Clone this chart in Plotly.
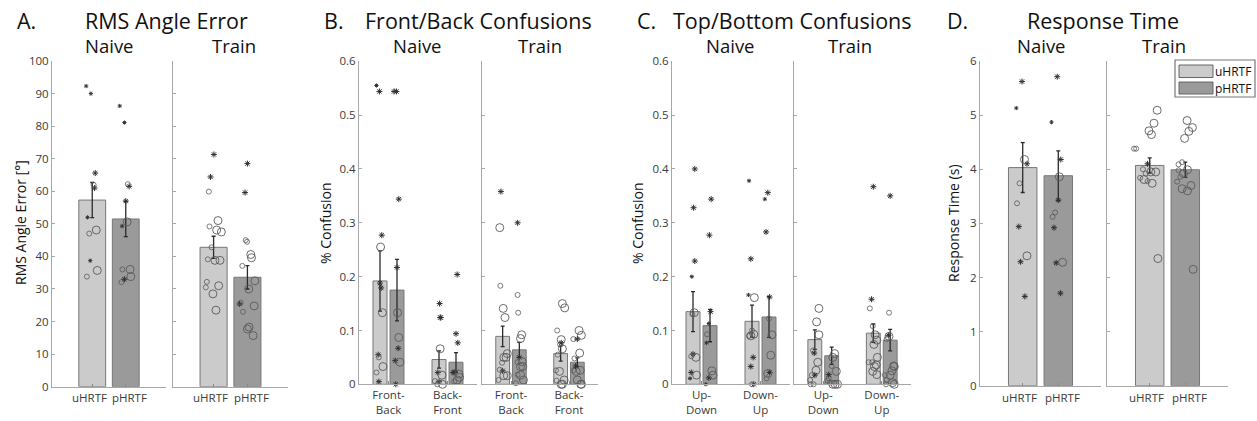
import plotly.graph_objects as go

W, H = 1257, 421

# ---------------- data ----------------
HRTF = ["uHRTF", "pHRTF"]
FB_TICKS = ["Front-<br>Back", "Back-<br>Front"]
UD_TICKS = ["Up-<br>Down", "Down-<br>Up"]

A_YTICKS = [0, 10, 20, 30, 40, 50, 60, 70, 80, 90, 100]
BC_YTICKS = [0, 0.1, 0.2, 0.3, 0.4, 0.5, 0.6]
D_YTICKS = [0, 1, 2, 3, 4, 5, 6]

# A. RMS angle error, [uHRTF, pHRTF]
A_naive_mean = [57.3, 51.5]
A_naive_sem = [5.4, 5.4]
A_train_mean = [42.8, 33.6]
A_train_sem = [3.4, 3.6]
# subjects: (value, jitter, marker kind)
A_naive_u = [(92.3, -0.18, "a"), (90.0, -0.04, "a"), (65.6, 0.09, "A"), (62.0, 0.04, "o"), (61.0, 0.07, "A"),
             (52.0, -0.14, "a"), (48.1, 0.12, "O"), (47.0, -0.09, "o"), (38.7, -0.06, "a"), (35.7, 0.15, "O"),
             (33.8, -0.16, "o")]
A_naive_p = [(86.2, -0.18, "a"), (81.1, -0.04, "a"), (62.2, 0.06, "o"), (61.5, 0.10, "A"), (57.0, 0.0, "A"),
             (50.6, 0.04, "O"), (49.3, -0.11, "a"), (36.0, -0.10, "o"), (36.0, 0.13, "O"), (33.8, 0.15, "O"),
             (33.0, -0.04, "A"), (32.1, -0.13, "o")]
A_train_u = [(71.3, 0.01, "A"), (64.4, -0.09, "A"), (59.9, -0.14, "o"), (51.0, 0.13, "O"), (49.2, -0.12, "o"),
             (48.1, 0.09, "O"), (47.5, 0.23, "O"), (42.8, -0.06, "o"), (39.1, -0.17, "o"), (38.8, 0.04, "O"),
             (38.8, 0.19, "O"), (32.2, -0.20, "o"), (31.0, 0.15, "O"), (30.5, -0.23, "o"), (28.5, -0.02, "O"),
             (23.5, 0.07, "O")]
A_train_p = [(68.5, 0.0, "A"), (59.6, -0.07, "A"), (45.0, -0.05, "o"), (44.5, -0.01, "o"), (40.6, 0.10, "O"),
             (39.6, 0.12, "O"), (37.1, -0.15, "o"), (32.5, 0.22, "O"), (30.0, 0.04, "O"), (25.8, -0.20, "o"),
             (25.4, -0.23, "A"), (24.8, 0.20, "O"), (23.0, -0.13, "o"), (18.3, 0.05, "O"), (17.7, 0.0, "O"),
             (15.7, 0.17, "O")]

# B. Front/Back confusions, groups [Front-Back, Back-Front]
B_naive_u_mean = [0.192, 0.046]
B_naive_u_sem = [0.056, 0.016]
B_naive_p_mean = [0.175, 0.041]
B_naive_p_sem = [0.057, 0.018]
B_train_u_mean = [0.089, 0.057]
B_train_u_sem = [0.019, 0.014]
B_train_p_mean = [0.064, 0.041]
B_train_p_sem = [0.014, 0.008]
B_naive_u_fb = [(0.555, -0.06, "a"), (0.544, -0.01, "A"), (0.277, 0.03, "A"), (0.255, 0.01, "O"), (0.188, 0.0, "A"),
                (0.179, 0.02, "A"), (0.133, 0.04, "O"), (0.055, -0.03, "A"), (0.050, -0.02, "o"),
                (0.022, -0.06, "o"), (0.033, 0.05, "O"), (0.005, -0.02, "A")]
B_naive_p_fb = [(0.544, -0.05, "A"), (0.544, -0.01, "A"), (0.344, 0.03, "A"), (0.217, 0.0, "A"), (0.133, 0.01, "O"),
                (0.087, 0.03, "O"), (0.067, 0.02, "A"), (0.044, -0.03, "A"), (0.041, 0.05, "O"), (0.0, -0.02, "A")]
B_naive_u_bf = [(0.150, 0.01, "A"), (0.124, 0.02, "A"), (0.124, 0.03, "A"), (0.066, 0.02, "O"), (0.022, -0.02, "A"),
                (0.006, -0.07, "o"), (0.0, -0.03, "o"), (0.017, 0.05, "O"), (0.0, 0.06, "O"), (0.005, 0.0, "A")]
B_naive_p_bf = [(0.204, 0.02, "A"), (0.094, 0.0, "A"), (0.077, 0.03, "A"), (0.022, -0.05, "A"), (0.022, -0.02, "A"),
                (0.019, 0.05, "O"), (0.008, 0.02, "O"), (0.005, -0.03, "o"), (0.013, 0.06, "O")]
B_train_u_fb = [(0.358, -0.03, "A"), (0.291, -0.05, "O"), (0.183, -0.04, "o"), (0.141, 0.01, "O"), (0.124, 0.04, "O"),
                (0.050, 0.02, "O"), (0.040, -0.01, "o"), (0.050, 0.06, "O"), (0.057, 0.08, "O"), (0.025, 0.0, "A"),
                (0.008, -0.07, "o"), (0.016, 0.02, "O"), (0.016, 0.08, "O"), (0.027, -0.05, "o")]
B_train_p_fb = [(0.300, -0.03, "A"), (0.166, -0.03, "o"), (0.133, -0.02, "o"), (0.092, 0.04, "O"), (0.085, 0.02, "O"),
                (0.050, 0.0, "A"), (0.041, -0.03, "o"), (0.042, 0.05, "O"), (0.033, 0.02, "O"), (0.033, 0.06, "O"),
                (0.018, -0.03, "o"), (0.017, 0.02, "O"), (0.008, 0.07, "O"), (0.002, -0.06, "o")]
B_train_u_bf = [(0.150, 0.03, "O"), (0.142, 0.07, "O"), (0.100, -0.06, "o"), (0.083, 0.01, "O"), (0.074, -0.01, "o"),
                (0.077, 0.01, "A"), (0.066, 0.03, "O"), (0.055, -0.05, "o"), (0.026, -0.08, "o"), (0.024, -0.02, "O"),
                (0.007, -0.07, "o"), (0.008, 0.06, "O"), (0.0, 0.03, "O"), (0.0, 0.01, "O")]
B_train_p_bf = [(0.100, 0.03, "O"), (0.091, 0.07, "O"), (0.084, -0.07, "o"), (0.084, 0.0, "A"), (0.058, 0.04, "O"),
                (0.048, -0.05, "o"), (0.034, -0.03, "A"), (0.026, -0.07, "o"), (0.024, -0.02, "O"), (0.026, 0.05, "O"),
                (0.008, 0.0, "O"), (0.0, 0.06, "O"), (0.0, 0.07, "O")]

# C. Top/Bottom confusions, groups [Up-Down, Down-Up]
C_naive_u_mean = [0.135, 0.117]
C_naive_u_sem = [0.037, 0.030]
C_naive_p_mean = [0.109, 0.125]
C_naive_p_sem = [0.030, 0.038]
C_train_u_mean = [0.083, 0.095]
C_train_u_sem = [0.018, 0.017]
C_train_p_mean = [0.053, 0.082]
C_train_p_sem = [0.016, 0.020]
C_naive_u_ud = [(0.400, 0.03, "A"), (0.328, 0.01, "A"), (0.229, 0.03, "A"), (0.200, -0.02, "a"), (0.133, 0.02, "O"),
                (0.130, -0.01, "o"), (0.056, 0.0, "A"), (0.052, -0.03, "o"), (0.050, 0.05, "O"), (0.022, -0.03, "A"),
                (0.011, -0.05, "a"), (0.017, 0.06, "O")]
C_naive_p_ud = [(0.344, 0.02, "A"), (0.277, -0.01, "A"), (0.135, 0.01, "A"), (0.113, -0.02, "a"), (0.093, -0.05, "o"),
                (0.077, -0.06, "a"), (0.025, 0.03, "O"), (0.017, 0.05, "O"), (0.012, -0.02, "A"), (0.0, -0.07, "a")]
C_naive_u_du = [(0.378, -0.05, "a"), (0.233, -0.02, "A"), (0.166, -0.06, "a"), (0.161, 0.04, "O"), (0.100, 0.0, "o"),
                (0.090, -0.05, "o"), (0.093, 0.03, "O"), (0.090, -0.02, "O"), (0.050, 0.02, "A"), (0.033, -0.02, "A"),
                (0.0, 0.0, "o"), (0.0, 0.03, "A")]
C_naive_p_du = [(0.356, -0.02, "A"), (0.344, -0.07, "a"), (0.283, -0.05, "A"), (0.162, 0.01, "A"), (0.122, 0.0, "o"),
                (0.092, 0.05, "O"), (0.054, 0.03, "O"), (0.022, 0.01, "A"), (0.020, -0.02, "O"), (0.011, -0.04, "o")]
C_train_u_ud = [(0.141, 0.07, "O"), (0.116, 0.03, "O"), (0.092, 0.07, "O"), (0.063, -0.03, "o"), (0.058, -0.01, "A"),
                (0.041, 0.05, "O"), (0.026, 0.02, "O"), (0.017, 0.0, "A"), (0.017, -0.05, "o"), (0.008, -0.08, "o"),
                (0.0, -0.07, "o"), (0.0, -0.02, "o")]
C_train_p_ud = [(0.057, 0.05, "O"), (0.050, 0.02, "O"), (0.034, 0.0, "o"), (0.024, 0.08, "O"), (0.018, -0.05, "A"),
                (0.011, -0.05, "o"), (0.007, -0.07, "o"), (0.0, 0.02, "O"), (0.0, 0.06, "O"), (0.0, 0.10, "O"),
                (0.003, -0.03, "o")]
C_train_u_du = [(0.367, 0.0, "A"), (0.158, -0.03, "A"), (0.141, -0.06, "o"), (0.108, -0.01, "o"), (0.092, 0.03, "O"),
                (0.082, 0.06, "O"), (0.074, 0.01, "O"), (0.050, 0.07, "O"), (0.041, -0.08, "o"), (0.041, -0.02, "o"),
                (0.033, 0.02, "O"), (0.036, 0.05, "O"), (0.024, -0.01, "O"), (0.018, 0.06, "O")]
C_train_p_du = [(0.350, 0.0, "A"), (0.133, -0.02, "o"), (0.091, -0.03, "A"), (0.084, -0.06, "o"), (0.089, -0.02, "O"),
                (0.034, 0.06, "O"), (0.025, 0.03, "O"), (0.017, 0.0, "O"), (0.033, 0.07, "O"), (0.017, -0.09, "o"),
                (0.008, -0.06, "o"), (0.003, 0.04, "O"), (0.0, 0.07, "O"), (0.0, -0.07, "o")]

# D. Response time (s), [uHRTF, pHRTF]
D_naive_mean = [4.03, 3.88]
D_naive_sem = [0.46, 0.46]
D_train_mean = [4.07, 3.99]
D_train_sem = [0.14, 0.14]
D_naive_u = [(5.62, -0.02, "A"), (5.13, -0.18, "a"), (4.18, 0.05, "O"), (4.10, 0.12, "A"), (3.74, -0.09, "o"),
             (3.37, -0.16, "o"), (2.94, -0.11, "A"), (2.29, -0.06, "A"), (2.40, 0.12, "O"), (1.65, 0.06, "A")]
D_naive_p = [(5.71, -0.03, "A"), (4.87, -0.19, "a"), (4.18, 0.07, "A"), (3.86, 0.03, "O"), (3.43, 0.0, "A"),
             (3.12, -0.16, "o"), (3.20, -0.09, "o"), (2.92, -0.12, "A"), (2.27, -0.06, "A"), (2.28, 0.12, "O"),
             (1.71, 0.06, "A")]
D_train_u = [(5.09, 0.21, "O"), (4.85, 0.12, "O"), (4.71, -0.02, "O"), (4.64, 0.05, "O"), (4.38, -0.44, "o"),
             (4.38, -0.38, "o"), (4.10, -0.06, "A"), (4.00, -0.19, "o"), (3.95, 0.03, "O"), (3.92, -0.11, "o"),
             (3.84, -0.27, "o"), (3.81, -0.16, "O"), (3.78, -0.06, "o"), (3.74, 0.07, "O"), (3.95, 0.17, "O"),
             (2.35, 0.23, "O")]
D_train_p = [(4.90, 0.05, "O"), (4.77, 0.20, "O"), (4.70, 0.10, "O"), (4.57, -0.02, "O"), (4.13, -0.09, "o"),
             (4.09, -0.19, "o"), (3.98, -0.19, "o"), (3.99, 0.06, "O"), (3.92, -0.05, "O"), (3.77, -0.23, "o"),
             (3.64, -0.09, "O"), (3.60, 0.06, "O"), (3.70, 0.16, "O"), (3.86, -0.14, "o"), (2.15, 0.22, "O")]

TITLES = ["RMS Angle Error", "Front/Back Confusions", "Top/Bottom Confusions", "Response Time"]
LETTERS = ["A.", "B.", "C.", "D."]
YTITLES = ["RMS Angle Error [°]", "% Confusion", "% Confusion", "Response Time (s)"]
CONDS = ["Naive", "Train"]

# ---------------- styling / layout ----------------
FONT = "Open Sans"
U_COL, P_COL = "#cbcbcb", "#9a9a9a"
EDGE = "#777777"
AXC = "#a8a8a8"
TICKC = "#3a3a3a"
KIND = {"a": ("asterisk-open", 3.5, 1.0, "#333333"),
        "A": ("asterisk-open", 5, 1.0, "#2f2f2f"),
        "o": ("circle-open", 5, 0.8, "#5a5a5a"),
        "O": ("circle-open", 8, 0.9, "#5a5a5a")}

# subplot pixel boxes: x0, x1, ytop, ybottom
BOX = [(52, 166, 61, 386.7), (173, 288, 61, 386.7),
       (359, 477, 61.3, 384.3), (482, 598, 61.3, 384.3),
       (672, 790, 61.3, 384.3), (794, 911, 61.3, 384.3),
       (980, 1101, 61, 385.7), (1107, 1228, 61, 385.7)]
TITLE_X = [166, 479, 792, 1103]
LETTER_X = [15, 322, 635, 945]
COND_X = [(109, 234), (417, 540), (730, 850), (1041, 1164)]
YTITLE_X = [20, 325, 637, 953]

SINGLE_W = 0.8
GROUP_W = 0.237
GROUP_OFF = 0.144
HRTF_LABEL_SHIFT = [-0.09, 0.11]   # labels spread slightly apart from the tick marks, as in the original
XLABEL_Y = 397

fig = go.Figure()


def px2x(px):
    return px / W


def px2y(py):
    return 1 - py / H


def add_points(pts, xc, unit, k):
    by_kind = {}
    for v, dx, kd in pts:
        by_kind.setdefault(kd, ([], []))
        by_kind[kd][0].append(xc + dx * unit)
        by_kind[kd][1].append(v)
    for kd, (xs, ys) in by_kind.items():
        sym, size, lw, col = KIND[kd]
        fig.add_trace(go.Scatter(
            x=xs, y=ys, mode="markers", xaxis=f"x{k+1}", yaxis=f"y{k+1}",
            marker=dict(symbol=sym, size=size, color=col, line=dict(width=lw, color=col)),
            showlegend=False, cliponaxis=False, hoverinfo="skip"))


def add_bars(k, xs, means, sems, color, width):
    fig.add_trace(go.Bar(
        x=xs, y=means, width=width, xaxis=f"x{k+1}", yaxis=f"y{k+1}",
        marker=dict(color=color, line=dict(color=EDGE, width=1)),
        error_y=dict(type="data", array=sems, color="#2a2a2a", thickness=1.3, width=2),
        showlegend=False, hoverinfo="skip"))


# single-category panels (A, D)
single = {0: (A_naive_mean, A_naive_sem, A_naive_u, A_naive_p),
          1: (A_train_mean, A_train_sem, A_train_u, A_train_p),
          6: (D_naive_mean, D_naive_sem, D_naive_u, D_naive_p),
          7: (D_train_mean, D_train_sem, D_train_u, D_train_p)}
for k, (m, s, pu, pp) in single.items():
    add_bars(k, [1], [m[0]], [s[0]], U_COL, SINGLE_W)
    add_bars(k, [2], [m[1]], [s[1]], P_COL, SINGLE_W)
    add_points(pu, 1, 1.0, k)
    add_points(pp, 2, 1.0, k)

# grouped panels (B, C)
grouped = {2: (B_naive_u_mean, B_naive_u_sem, B_naive_p_mean, B_naive_p_sem,
               [B_naive_u_fb, B_naive_u_bf], [B_naive_p_fb, B_naive_p_bf]),
           3: (B_train_u_mean, B_train_u_sem, B_train_p_mean, B_train_p_sem,
               [B_train_u_fb, B_train_u_bf], [B_train_p_fb, B_train_p_bf]),
           4: (C_naive_u_mean, C_naive_u_sem, C_naive_p_mean, C_naive_p_sem,
               [C_naive_u_ud, C_naive_u_du], [C_naive_p_ud, C_naive_p_du]),
           5: (C_train_u_mean, C_train_u_sem, C_train_p_mean, C_train_p_sem,
               [C_train_u_ud, C_train_u_du], [C_train_p_ud, C_train_p_du])}
for k, (mu, su, mp, sp, pu, pp) in grouped.items():
    groups = [1, 2]
    add_bars(k, [g - GROUP_OFF for g in groups], mu, su, U_COL, GROUP_W)
    add_bars(k, [g + GROUP_OFF for g in groups], mp, sp, P_COL, GROUP_W)
    for g, pts in zip(groups, pu):
        add_points(pts, g - GROUP_OFF, 1.0, k)
    for g, pts in zip(groups, pp):
        add_points(pts, g + GROUP_OFF, 1.0, k)

layout = dict(width=W, height=H, margin=dict(l=0, r=0, t=0, b=0, pad=0, autoexpand=False),
              paper_bgcolor="white", plot_bgcolor="white", showlegend=False, autosize=False,
              font=dict(family=FONT, color="#222"), barmode="overlay")

ann = []
for k, (x0, x1, yt, yb) in enumerate(BOX):
    panel = k // 2
    naive = (k % 2 == 0)
    if panel in (0, 3):
        xr, tv, tt, showx = [-0.2, 3.2], [1, 2], HRTF, False
        for i, lab in enumerate(HRTF):
            ann.append(dict(x=tv[i] + HRTF_LABEL_SHIFT[i], y=px2y(XLABEL_Y), xref=f"x{k+1}", yref="paper",
                            text=lab, showarrow=False, xanchor="center", yanchor="middle",
                            font=dict(family=FONT, size=11.5, color=TICKC)))
    else:
        xr, tv, tt, showx = [0.5, 2.5], [1, 2], (FB_TICKS if panel == 1 else UD_TICKS), True
    if panel == 0:
        yr, ytv = [0, 100], A_YTICKS
    elif panel == 3:
        yr, ytv = [0, 6], D_YTICKS
    else:
        yr, ytv = [0, 0.6], BC_YTICKS
    xa = "xaxis" if k == 0 else f"xaxis{k+1}"
    ya = "yaxis" if k == 0 else f"yaxis{k+1}"
    layout[xa] = dict(domain=[px2x(x0), px2x(x1)], range=xr, anchor=f"y{k+1}" if k else "y",
                      showline=True, linecolor=AXC, linewidth=1, ticks="inside", ticklen=3,
                      tickcolor="#888888", tickvals=tv, ticktext=tt, showticklabels=showx, tickangle=0,
                      showgrid=False, zeroline=False, automargin=False,
                      tickfont=dict(family=FONT, size=11.5, color=TICKC), fixedrange=True)
    layout[ya] = dict(domain=[px2y(yb), px2y(yt)], range=yr, anchor=f"x{k+1}" if k else "x",
                      showline=True, linecolor=AXC, linewidth=1, ticks="inside", ticklen=3,
                      tickcolor=AXC, tickvals=ytv, showticklabels=naive, showgrid=False,
                      zeroline=False, automargin=False,
                      tickfont=dict(family=FONT, size=11.5, color=TICKC), fixedrange=True)

for p in range(4):
    ann.append(dict(x=px2x(LETTER_X[p]), y=px2y(20), xref="paper", yref="paper", text=LETTERS[p],
                    showarrow=False, xanchor="left", yanchor="middle",
                    font=dict(family=FONT, size=21.5, color="#111")))
    ann.append(dict(x=px2x(TITLE_X[p]), y=px2y(20), xref="paper", yref="paper", text=TITLES[p],
                    showarrow=False, xanchor="center", yanchor="middle",
                    font=dict(family=FONT, size=21.5, color="#111")))
    for c in range(2):
        ann.append(dict(x=px2x(COND_X[p][c]), y=px2y(45), xref="paper", yref="paper", text=CONDS[c],
                        showarrow=False, xanchor="center", yanchor="middle",
                        font=dict(family=FONT, size=18.5, color="#111")))
    ann.append(dict(x=px2x(YTITLE_X[p]), y=px2y(223), xref="paper", yref="paper", text=YTITLES[p],
                    showarrow=False, xanchor="center", yanchor="middle", textangle=-90,
                    font=dict(family=FONT, size=14, color="#111")))

# legend (drawn as box + swatches)
shapes = [dict(type="rect", xref="paper", yref="paper", x0=px2x(1175), x1=px2x(1255), y0=px2y(97), y1=px2y(60),
               line=dict(color="#777", width=1.2), fillcolor="white", layer="above"),
          dict(type="rect", xref="paper", yref="paper", x0=px2x(1179), x1=px2x(1213), y0=px2y(77.5), y1=px2y(65),
               line=dict(color="#666", width=1), fillcolor=U_COL, layer="above"),
          dict(type="rect", xref="paper", yref="paper", x0=px2x(1179), x1=px2x(1213), y0=px2y(94), y1=px2y(82),
               line=dict(color="#666", width=1), fillcolor=P_COL, layer="above")]
for lab, yy in zip(HRTF, [71, 88]):
    ann.append(dict(x=px2x(1253), y=px2y(yy), xref="paper", yref="paper", text=lab, showarrow=False,
                    xanchor="right", yanchor="middle", font=dict(family=FONT, size=12, color="#111")))

layout["annotations"] = ann
layout["shapes"] = shapes
fig.update_layout(**layout)
PAGE_FIX = ("var s=document.createElement('style');"
            "s.innerHTML='html,body{margin:0;padding:0;overflow:hidden;height:421px;width:1257px;}';"
            "document.head.appendChild(s);")
fig.write_html("out.html", config={"displayModeBar": False}, post_script=PAGE_FIX)
